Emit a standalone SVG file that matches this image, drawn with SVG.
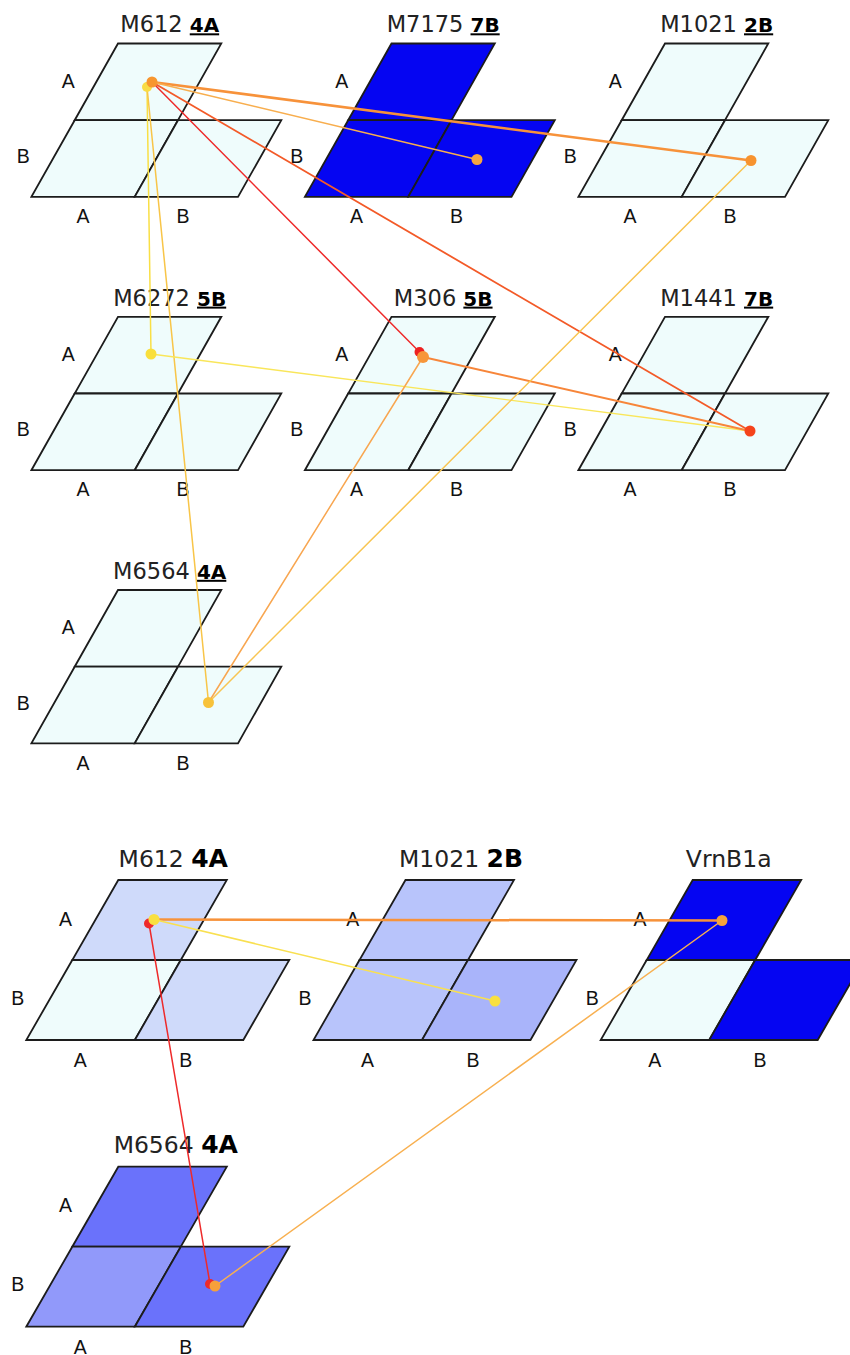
<svg xmlns="http://www.w3.org/2000/svg" width="850" height="1355" viewBox="0 0 850 1355">
<style>
.cell{stroke:#1c1c1c;stroke-width:1.8;stroke-linejoin:miter}
.lt{fill:#effcfc}
.bl{fill:#0505f2}
.p1{fill:#cfdafa}
.p2{fill:#b8c4fb}
.p3{fill:#a9b4fa}
.p4{fill:#6a72fb}
.p5{fill:#9199fa}
.lab{font-family:"Liberation Sans",Arial,sans-serif;font-size:19.5px;fill:#111;text-anchor:middle}
.ttl{font-family:"DejaVu Sans",Verdana,sans-serif;font-size:22.5px;fill:#222;text-anchor:middle}
.ttl2{font-family:"DejaVu Sans",Verdana,sans-serif;font-size:23.5px;fill:#222;text-anchor:middle}
.chr{font-weight:bold;font-size:20px;fill:#000;text-decoration:underline}
.chr2{font-weight:bold;font-size:25px;fill:#000}
.cn{fill:none;stroke-linecap:round}
</style>

<!-- Top section nodes -->
<g id="top-M612-4A" transform="translate(118,43.5)">
<polygon class="cell lt" points="0,0 103.3,0 60,76.7 -43.3,76.7"/>
<polygon class="cell lt" points="-43.3,76.7 60,76.7 16.7,153.4 -86.6,153.4"/>
<polygon class="cell lt" points="60,76.7 163.3,76.7 120,153.4 16.7,153.4"/>
<text class="ttl" x="51.7" y="-11.2">M612 <tspan class="chr">4A</tspan></text>
<text class="lab" x="-49.7" y="44.3">A</text>
<text class="lab" x="-94.7" y="119.7">B</text>
<text class="lab" x="-35" y="179.7">A</text>
<text class="lab" x="65" y="179.7">B</text>
</g>

<g id="top-M7175-7B" transform="translate(391.5,43.5)">
<polygon class="cell bl" points="0,0 103.3,0 60,76.7 -43.3,76.7"/>
<polygon class="cell bl" points="-43.3,76.7 60,76.7 16.7,153.4 -86.6,153.4"/>
<polygon class="cell bl" points="60,76.7 163.3,76.7 120,153.4 16.7,153.4"/>
<text class="ttl" x="51.7" y="-11.2">M7175 <tspan class="chr">7B</tspan></text>
<text class="lab" x="-49.7" y="44.3">A</text>
<text class="lab" x="-94.7" y="119.7">B</text>
<text class="lab" x="-35" y="179.7">A</text>
<text class="lab" x="65" y="179.7">B</text>
</g>

<g id="top-M1021-2B" transform="translate(665,43.5)">
<polygon class="cell lt" points="0,0 103.3,0 60,76.7 -43.3,76.7"/>
<polygon class="cell lt" points="-43.3,76.7 60,76.7 16.7,153.4 -86.6,153.4"/>
<polygon class="cell lt" points="60,76.7 163.3,76.7 120,153.4 16.7,153.4"/>
<text class="ttl" x="51.7" y="-11.2">M1021 <tspan class="chr">2B</tspan></text>
<text class="lab" x="-49.7" y="44.3">A</text>
<text class="lab" x="-94.7" y="119.7">B</text>
<text class="lab" x="-35" y="179.7">A</text>
<text class="lab" x="65" y="179.7">B</text>
</g>

<g id="top-M6272-5B" transform="translate(118,316.8)">
<polygon class="cell lt" points="0,0 103.3,0 60,76.7 -43.3,76.7"/>
<polygon class="cell lt" points="-43.3,76.7 60,76.7 16.7,153.4 -86.6,153.4"/>
<polygon class="cell lt" points="60,76.7 163.3,76.7 120,153.4 16.7,153.4"/>
<text class="ttl" x="51.7" y="-11.2">M6272 <tspan class="chr">5B</tspan></text>
<text class="lab" x="-49.7" y="44.3">A</text>
<text class="lab" x="-94.7" y="119.7">B</text>
<text class="lab" x="-35" y="179.7">A</text>
<text class="lab" x="65" y="179.7">B</text>
</g>

<g id="top-M306-5B" transform="translate(391.5,316.8)">
<polygon class="cell lt" points="0,0 103.3,0 60,76.7 -43.3,76.7"/>
<polygon class="cell lt" points="-43.3,76.7 60,76.7 16.7,153.4 -86.6,153.4"/>
<polygon class="cell lt" points="60,76.7 163.3,76.7 120,153.4 16.7,153.4"/>
<text class="ttl" x="51.7" y="-11.2">M306 <tspan class="chr">5B</tspan></text>
<text class="lab" x="-49.7" y="44.3">A</text>
<text class="lab" x="-94.7" y="119.7">B</text>
<text class="lab" x="-35" y="179.7">A</text>
<text class="lab" x="65" y="179.7">B</text>
</g>

<g id="top-M1441-7B" transform="translate(665,316.8)">
<polygon class="cell lt" points="0,0 103.3,0 60,76.7 -43.3,76.7"/>
<polygon class="cell lt" points="-43.3,76.7 60,76.7 16.7,153.4 -86.6,153.4"/>
<polygon class="cell lt" points="60,76.7 163.3,76.7 120,153.4 16.7,153.4"/>
<text class="ttl" x="51.7" y="-11.2">M1441 <tspan class="chr">7B</tspan></text>
<text class="lab" x="-49.7" y="44.3">A</text>
<text class="lab" x="-94.7" y="119.7">B</text>
<text class="lab" x="-35" y="179.7">A</text>
<text class="lab" x="65" y="179.7">B</text>
</g>

<g id="top-M6564-4A" transform="translate(118,590)">
<polygon class="cell lt" points="0,0 103.3,0 60,76.7 -43.3,76.7"/>
<polygon class="cell lt" points="-43.3,76.7 60,76.7 16.7,153.4 -86.6,153.4"/>
<polygon class="cell lt" points="60,76.7 163.3,76.7 120,153.4 16.7,153.4"/>
<text class="ttl" x="51.7" y="-11.2">M6564 <tspan class="chr">4A</tspan></text>
<text class="lab" x="-49.7" y="44.3">A</text>
<text class="lab" x="-94.7" y="119.7">B</text>
<text class="lab" x="-35" y="179.7">A</text>
<text class="lab" x="65" y="179.7">B</text>
</g>

<!-- Bottom section nodes -->
<g id="bot-M612-4A" transform="translate(118.3,880)">
<polygon class="cell p1" points="0,0 108.5,0 62.5,80 -46,80"/>
<polygon class="cell lt" points="-46,80 62.5,80 16.5,160 -92,160"/>
<polygon class="cell p1" points="62.5,80 171,80 125,160 16.5,160"/>
<text class="ttl2" x="55" y="-13.3">M612 <tspan class="chr2">4A</tspan></text>
<text class="lab" x="-52.8" y="45.5">A</text>
<text class="lab" x="-100.5" y="124.8">B</text>
<text class="lab" x="-38" y="187">A</text>
<text class="lab" x="67.4" y="187">B</text>
</g>

<g id="bot-M1021-2B" transform="translate(405.5,880)">
<polygon class="cell p2" points="0,0 108.5,0 62.5,80 -46,80"/>
<polygon class="cell p2" points="-46,80 62.5,80 16.5,160 -92,160"/>
<polygon class="cell p3" points="62.5,80 171,80 125,160 16.5,160"/>
<text class="ttl2" x="55.5" y="-13.3">M1021 <tspan class="chr2">2B</tspan></text>
<text class="lab" x="-52.8" y="45.5">A</text>
<text class="lab" x="-100.5" y="124.8">B</text>
<text class="lab" x="-38" y="187">A</text>
<text class="lab" x="67.4" y="187">B</text>
</g>

<g id="bot-VrnB1a" transform="translate(692.7,880)">
<polygon class="cell bl" points="0,0 108.5,0 62.5,80 -46,80"/>
<polygon class="cell lt" points="-46,80 62.5,80 16.5,160 -92,160"/>
<polygon class="cell bl" points="62.5,80 171,80 125,160 16.5,160"/>
<text class="ttl2" x="36" y="-13.3">VrnB1a</text>
<text class="lab" x="-52.8" y="45.5">A</text>
<text class="lab" x="-100.5" y="124.8">B</text>
<text class="lab" x="-38" y="187">A</text>
<text class="lab" x="67.4" y="187">B</text>
</g>

<g id="bot-M6564-4A" transform="translate(118.3,1166.7)">
<polygon class="cell p4" points="0,0 108.5,0 62.5,80 -46,80"/>
<polygon class="cell p5" points="-46,80 62.5,80 16.5,160 -92,160"/>
<polygon class="cell p4" points="62.5,80 171,80 125,160 16.5,160"/>
<text class="ttl2" x="57.5" y="-13.3">M6564 <tspan class="chr2">4A</tspan></text>
<text class="lab" x="-52.8" y="45.5">A</text>
<text class="lab" x="-100.5" y="124.8">B</text>
<text class="lab" x="-38" y="187">A</text>
<text class="lab" x="67.4" y="187">B</text>
</g>

<!-- Connectors -->
<g id="connectors">
<line class="cn" x1="152" y1="82" x2="751" y2="160.5" stroke="#f7923a" stroke-width="2.5"/>
<line class="cn" x1="152" y1="82" x2="477" y2="159.5" stroke="#f8ae4e" stroke-width="1.5"/>
<line class="cn" x1="152" y1="82" x2="750" y2="431" stroke="#f35a28" stroke-width="1.8"/>
<line class="cn" x1="152" y1="82" x2="419.5" y2="352" stroke="#ee2a2a" stroke-width="1.5"/>
<line class="cn" x1="147" y1="87" x2="151" y2="354" stroke="#f9df45" stroke-width="1.5"/>
<line class="cn" x1="147" y1="87" x2="208.5" y2="702.5" stroke="#f8c548" stroke-width="1.5"/>
<line class="cn" x1="151" y1="354" x2="750" y2="431" stroke="#f9e65a" stroke-width="1.3"/>
<line class="cn" x1="423" y1="357" x2="750" y2="431" stroke="#f7863a" stroke-width="2"/>
<line class="cn" x1="423" y1="357" x2="208.5" y2="702.5" stroke="#f8a650" stroke-width="1.5"/>
<line class="cn" x1="751" y1="160.5" x2="208.5" y2="702.5" stroke="#f8c552" stroke-width="1.5"/>

<line class="cn" x1="154" y1="919.5" x2="722" y2="920.5" stroke="#f7923a" stroke-width="2.5"/>
<line class="cn" x1="154" y1="919.5" x2="495" y2="1001" stroke="#f9e050" stroke-width="1.5"/>
<line class="cn" x1="149" y1="923.5" x2="210" y2="1284" stroke="#ee2a2a" stroke-width="1.5"/>
<line class="cn" x1="722" y1="920.5" x2="215" y2="1286" stroke="#f8b050" stroke-width="1.5"/>

<circle cx="147" cy="87" r="5" fill="#f9dc45"/>
<circle cx="152" cy="82" r="5.5" fill="#f7962f"/>
<circle cx="477" cy="159.5" r="5.5" fill="#f7a640"/>
<circle cx="751" cy="160.5" r="5.5" fill="#f7932f"/>
<circle cx="151" cy="354" r="5.5" fill="#f9df3c"/>
<circle cx="419.5" cy="352" r="5" fill="#ee2020"/>
<circle cx="423" cy="357" r="6" fill="#f7963a"/>
<circle cx="750" cy="431" r="5.5" fill="#f5431b"/>
<circle cx="208.5" cy="702.5" r="5.5" fill="#f7c23a"/>

<circle cx="149" cy="923.5" r="5" fill="#ee2a2a"/>
<circle cx="154" cy="919.5" r="5.5" fill="#f9e040"/>
<circle cx="495" cy="1001" r="5.5" fill="#f9e040"/>
<circle cx="722" cy="920.5" r="5.5" fill="#f7a23a"/>
<circle cx="210" cy="1284" r="5" fill="#ee2a2a"/>
<circle cx="215" cy="1286" r="5.5" fill="#f7a03a"/>
</g>
</svg>
